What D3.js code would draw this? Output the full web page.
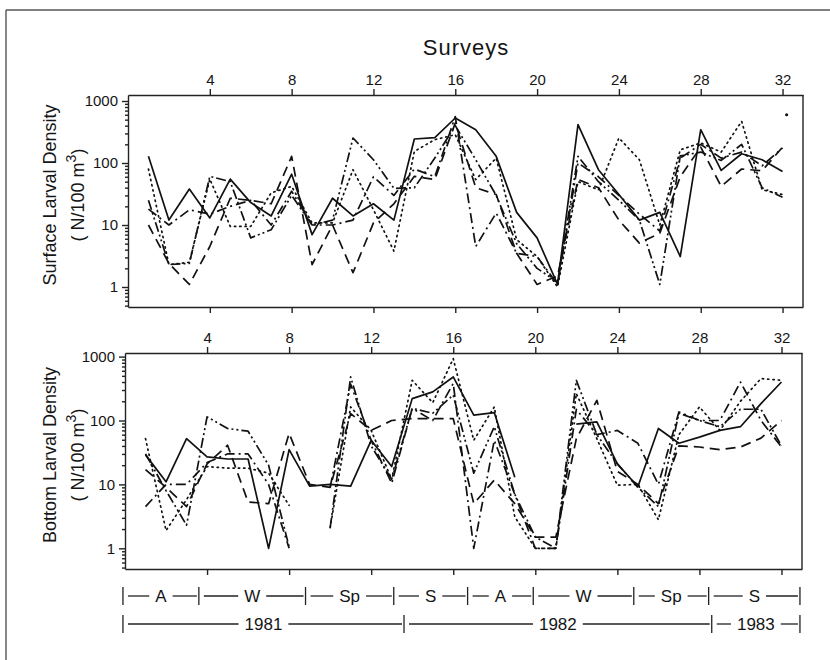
<!DOCTYPE html>
<html>
<head>
<meta charset="utf-8">
<script src="https://cdn.jsdelivr.net/npm/d3@7"></script>
<style>
  body { margin: 0; background: #fff; }
  svg text { font-family: "Liberation Sans", Arial, sans-serif; fill: #151515; }
  .axis path, .axis line { stroke: #222; stroke-width: 1.4; }
  .axis text { font-size: 15px; }
  .series { fill: none; stroke: #111; stroke-width: 1.7; stroke-linejoin: round; }
  .frame { stroke: #555; stroke-width: 1.4; }
  .bar { stroke: #222; stroke-width: 1.3; }
</style>
</head>
<body>
<svg id="chart" width="830" height="660"></svg>
<script>
// survey numbers and densities (N/100 m3)
const surveys = [1, 2, 3, 4, 5, 6, 7, 8, 9, 10, 11, 12, 13, 14, 15, 16,
  17, 18, 19, 20, 21, 22, 23, 24, 25, 26, 27, 28, 29, 30, 31, 32];

const surfSolid = [128, 12, 38, 13, 55, 23, 14, 66, 7, 27, 14, 22, 12, 244, 257, 532,
  344, 128, 16, 6.2, 1.1, 415, 78, 31, 12, 16, 3.1, 344, 76, 141, 113, 73];
const surfDashed = [10, 2.4, 1.1, 4.5, 27, 25, 22, 128, 2.3, 10, 1.7, 10.8, 22, 61, 54, 442,
  40, 31, 3.5, 1.1, 1.5, 54, 40, 12, 5.1, 7.4, 60, 180, 42, 80, 75, 180];
const surfDotted = [80, 2.3, 2.5, 55, 9.5, 9.5, 33, 42, 10.8, 10.8, 78, 17.6, 3.8, 154, 238, 286,
  54, 120, 5.8, 3.1, 1, 50, 37, 253, 113, 10, 163, 211, 150, 469, 37, 31];
const surfDashDot = [18, 10, 17.6, 15, 20, 25, 10, 35, 10, 10, 12, 60, 30, 80, 60, 560,
  4.5, 15.6, 3.5, 3.1, 1.1, 100, 60, 30, 15, 8, 120, 200, 120, 150, 90, 175];
const surfDashDotDot = [25, 2.3, 2.4, 61, 50, 6.2, 8.4, 30, 10, 12, 253, 113, 39, 40, 120, 400,
  113, 30, 5, 2, 1.2, 128, 50, 25, 12, 1.1, 130, 150, 110, 200, 40, 28];
const surfStray = [{ s: 32.2, v: 600 }];

const botSolid = [29, 11, 52, 27, 25, 25, 1, 35, 9.4, 10, 9.4, 49, 19, 220, 280, 480,
  121, 133, 13, null, null, 88, 95, 21, 9.2, 75, 44, 55, 70, 80, 184, 400];
const botDashed = [17, 9, 4.5, 21, 41, 5.3, 5, 63, 10, 9, 128, 70, 100, 107, 107, 107,
  5, 11.7, 5, 1.5, 1.5, 52, 207, 16, 10, 5, 40, 38.5, 35, 38.5, 53, 100];
const botDotted = [52, 1.9, 5.8, 19, 18, 18, 15, 4.7, null, 2.1, 163, 70, 12, 426, 190, 930,
  49, 163, 3.1, 1, 1, 264, 52, 9.7, 10, 2.8, 60, 163, 70, 200, 453, 426];
const botDashDot = [4.5, 10, 10, 22, 30, 30, 10, 1, null, 9, 370, 49, 10.4, 155, 100, 380,
  1, 49, 7, 1, 1, 150, 60, 70, 44, 10, 136, 100, 100, 400, 100, 38.5];
const botDashDotDot = [30, 8, 2.3, 114, 75, 68, 20, 1.05, null, 2.1, 480, 40, 12, 155, 130, 250,
  15, 80, 7, 1.5, 1, 426, 60, 21, 9, 4.5, 130, 100, 80, 150, 150, 40];

const xTicks = [4, 8, 12, 16, 20, 24, 28, 32];
const yMajor = [1, 10, 100, 1000];

const seasonNames = ["A", "W", "Sp", "S", "A", "W", "Sp", "S"];
const seasonBreaks = [-0.1, 3.6, 8.8, 13.1, 16.7, 19.9, 24.8, 28.45, 32.9];
const yearNames = ["1981", "1982", "1983"];
const yearBreaks = [-0.1, 13.6, 28.6, 32.9];

const dashes = ["none", "10,6", "1.3,4", "10,4,2,4", "10,3,2,3,2,3"];

const svg = d3.select("svg#chart");

// outer frame (top and left edges show in the picture)
svg.append("line").attr("class", "frame").attr("x1", 6).attr("y1", 10).attr("x2", 830).attr("y2", 10);
svg.append("line").attr("class", "frame").attr("x1", 6).attr("y1", 10).attr("x2", 6).attr("y2", 660);

svg.append("text")
  .attr("x", 466).attr("y", 55)
  .attr("text-anchor", "middle")
  .style("font-size", "22px").style("letter-spacing", "1px")
  .text("Surveys");

function drawPanel(p) {
  const x = d3.scaleLinear([0, 33], [p.left, p.right]);
  const y = d3.scaleLog([p.yMin, p.yMax], [p.bottom, p.top]);
  const g = svg.append("g");

  g.append("g").attr("class", "axis")
    .attr("transform", `translate(0,${p.top})`)
    .call(d3.axisTop(x).tickValues(xTicks).tickSize(6).tickSizeOuter(0).tickPadding(4));
  g.append("g").attr("class", "axis")
    .attr("transform", `translate(0,${p.bottom})`)
    .call(d3.axisBottom(x).tickValues(xTicks).tickSize(6).tickSizeOuter(0).tickFormat(""));

  const minor = y.ticks().filter((t) => !yMajor.includes(t));
  g.append("g").attr("class", "axis")
    .attr("transform", `translate(${p.left},0)`)
    .call(d3.axisLeft(y).tickValues(minor).tickSize(3).tickSizeOuter(0).tickFormat(""))
    .select(".domain").remove();
  g.append("g").attr("class", "axis")
    .attr("transform", `translate(${p.left},0)`)
    .call(d3.axisLeft(y).tickValues(yMajor).tickSize(6).tickSizeOuter(0).tickPadding(4).tickFormat(d3.format("d")));

  g.append("line").attr("class", "frame")
    .style("stroke", "#222")
    .attr("x1", p.right).attr("x2", p.right).attr("y1", p.top).attr("y2", p.bottom);

  const line = d3.line()
    .defined((d) => d.v != null)
    .x((d) => x(d.s))
    .y((d) => y(d.v));

  p.series.forEach((vals, i) => {
    const pts = surveys.map((s, k) => ({ s: s, v: vals[k] }));
    g.append("path").datum(pts)
      .attr("class", "series")
      .attr("stroke-dasharray", dashes[i])
      .attr("stroke-linecap", i === 2 ? "round" : "butt")
      .attr("d", line);
  });

  if (p.extra) {
    g.selectAll("circle.extra").data(p.extra).join("circle")
      .attr("class", "extra").attr("r", 1.6).attr("fill", "#111")
      .attr("cx", (d) => x(d.s)).attr("cy", (d) => y(d.v));
  }

  const cy = (p.top + p.bottom) / 2 - 6;
  const lab = g.append("text")
    .attr("transform", `translate(${p.labelX},${cy}) rotate(-90)`)
    .attr("text-anchor", "middle")
    .style("font-size", "18px");
  lab.text(p.label);
  const unit = g.append("text")
    .attr("transform", `translate(${p.labelX + 28},${cy}) rotate(-90)`)
    .attr("text-anchor", "middle")
    .style("font-size", "18px");
  unit.append("tspan").text("( N/100 m");
  unit.append("tspan").attr("dy", -8).style("font-size", "14px").text("3");
  unit.append("tspan").attr("dy", 8).text(")");
  return x;
}

drawPanel({
  left: 128, right: 803, top: 95, bottom: 307,
  yMin: Math.pow(10, -20 / 62), yMax: Math.pow(10, 3 + 6 / 62),
  series: [surfSolid, surfDashed, surfDotted, surfDashDot, surfDashDotDot],
  extra: surfStray,
  label: "Surface Larval Density", labelX: 56
});

const xb = drawPanel({
  left: 125, right: 802, top: 353, bottom: 569,
  yMin: Math.pow(10, -20.7 / 64), yMax: Math.pow(10, 3 + 3.6 / 64),
  series: [botSolid, botDashed, botDotted, botDashDot, botDashDotDot],
  label: "Bottom Larval Density", labelX: 56
});

// season and year rows under the lower panel
function drawRow(names, breaks, yc) {
  const row = svg.append("g");
  breaks.forEach((b) => {
    row.append("line").attr("class", "bar")
      .attr("x1", xb(b)).attr("x2", xb(b)).attr("y1", yc - 9).attr("y2", yc + 9);
  });
  names.forEach((n, i) => {
    const a = xb(breaks[i]), b = xb(breaks[i + 1]);
    const t = row.append("text")
      .attr("x", (a + b) / 2).attr("y", yc + 6)
      .attr("text-anchor", "middle")
      .style("font-size", "17px")
      .text(n);
    const w = t.node().getComputedTextLength();
    row.append("line").attr("class", "bar")
      .attr("x1", a + 5).attr("x2", (a + b) / 2 - w / 2 - 6).attr("y1", yc).attr("y2", yc);
    row.append("line").attr("class", "bar")
      .attr("x1", (a + b) / 2 + w / 2 + 6).attr("x2", b - 2).attr("y1", yc).attr("y2", yc);
  });
}
drawRow(seasonNames, seasonBreaks, 596);
drawRow(yearNames, yearBreaks, 624);
</script>
</body>
</html>
